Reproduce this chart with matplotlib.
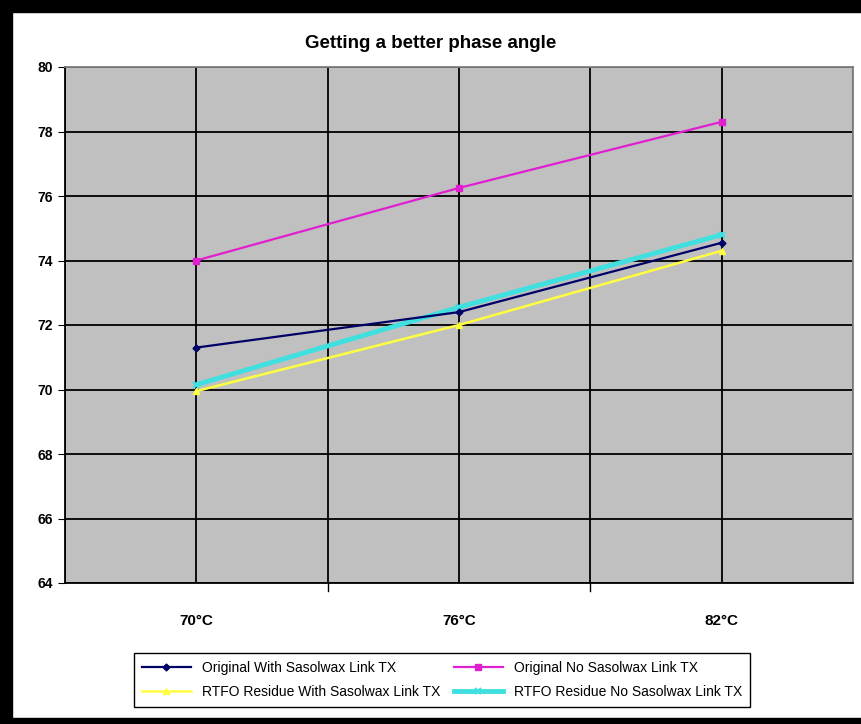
import numpy as np
import matplotlib
matplotlib.use('Agg')
import matplotlib.pyplot as plt
from matplotlib.patches import Rectangle

# data
temperatures = ['70°C', '76°C', '82°C']
orig_with = [71.3, 72.4, 74.55]
orig_without = [74.0, 76.25, 78.3]
rtfo_with = [69.95, 72.0, 74.3]
rtfo_without = [70.15, 72.55, 74.8]

plt.rcParams['font.family'] = ['Liberation Sans', 'DejaVu Sans']

W, H = 862, 724
fig = plt.figure(figsize=(W / 100, H / 100), dpi=100)
ax = fig.add_axes([65 / W, 1 - 583 / H, (853 - 65) / W, (583 - 67) / H])
ax.set_facecolor('#c0c0c0')

x = np.arange(len(temperatures))
l1, = ax.plot(x, orig_with, color='#000066', lw=1.6, marker='D', ms=3.5, label='Original With Sasolwax Link TX', zorder=4)
l2, = ax.plot(x, orig_without, color='#e020d0', lw=1.6, marker='s', ms=4, label='Original No Sasolwax Link TX', zorder=4)
l3, = ax.plot(x, rtfo_with, color='#ffff40', lw=1.8, marker='^', ms=5, label='RTFO Residue With Sasolwax Link TX', zorder=3)
l4, = ax.plot(x, rtfo_without, color='#40e0e0', lw=3.5, marker='x', ms=5, mew=1.5, label='RTFO Residue No Sasolwax Link TX', zorder=2)

ax.set_xlim(-0.5, 2.5)
ax.set_ylim(64, 80)
ax.set_yticks(np.arange(64, 81, 2))
ax.set_xticks(x)
ax.set_xticklabels(temperatures, fontsize=11, fontweight='bold')
ax.tick_params(axis='y', labelsize=10, length=5, direction='out')
for lab in ax.get_yticklabels():
    lab.set_fontweight('bold')
ax.tick_params(axis='x', length=0, pad=22)
for xv in [-0.5, 0.5, 1.5, 2.5]:
    ax.axvline(xv, color='black', lw=1.3, zorder=1)
for xv in [0.5, 1.5]:
    ax.plot([xv, xv], [64, 63.75], color='black', lw=1, clip_on=False)
for xv in x:
    ax.axvline(xv, color='black', lw=1.3, zorder=1)
ax.grid(axis='y', color='black', lw=1.3, zorder=1)
ax.set_axisbelow(True)
for side, s in ax.spines.items():
    s.set_color('black' if side in ('left', 'bottom') else '#808080')
    s.set_linewidth(1.3)

fig.suptitle('Getting a better phase angle', y=1 - 44 / H, va='center', fontsize=13.5, fontweight='bold')

# legend filled row by row like the original
fig.legend([l1, l3, l2, l4], [l1.get_label(), l3.get_label(), l2.get_label(), l4.get_label()],
           loc='center', bbox_to_anchor=(442 / W, 1 - 680 / H), ncol=2, fontsize=10,
           frameon=True, fancybox=False, edgecolor='black', framealpha=1,
           columnspacing=1.0, handlelength=3.5, borderpad=0.6, labelspacing=0.7)

# black frame of the screenshot (top, left, bottom)
fig.patches.append(Rectangle((0, 1 - 12 / H), 1, 12 / H, transform=fig.transFigure, color='black', zorder=10))
fig.patches.append(Rectangle((0, 0), 12 / W, 1, transform=fig.transFigure, color='black', zorder=10))
fig.patches.append(Rectangle((0, 0), 1, 6 / H, transform=fig.transFigure, color='black', zorder=10))

fig.savefig('out.png', dpi=100)
